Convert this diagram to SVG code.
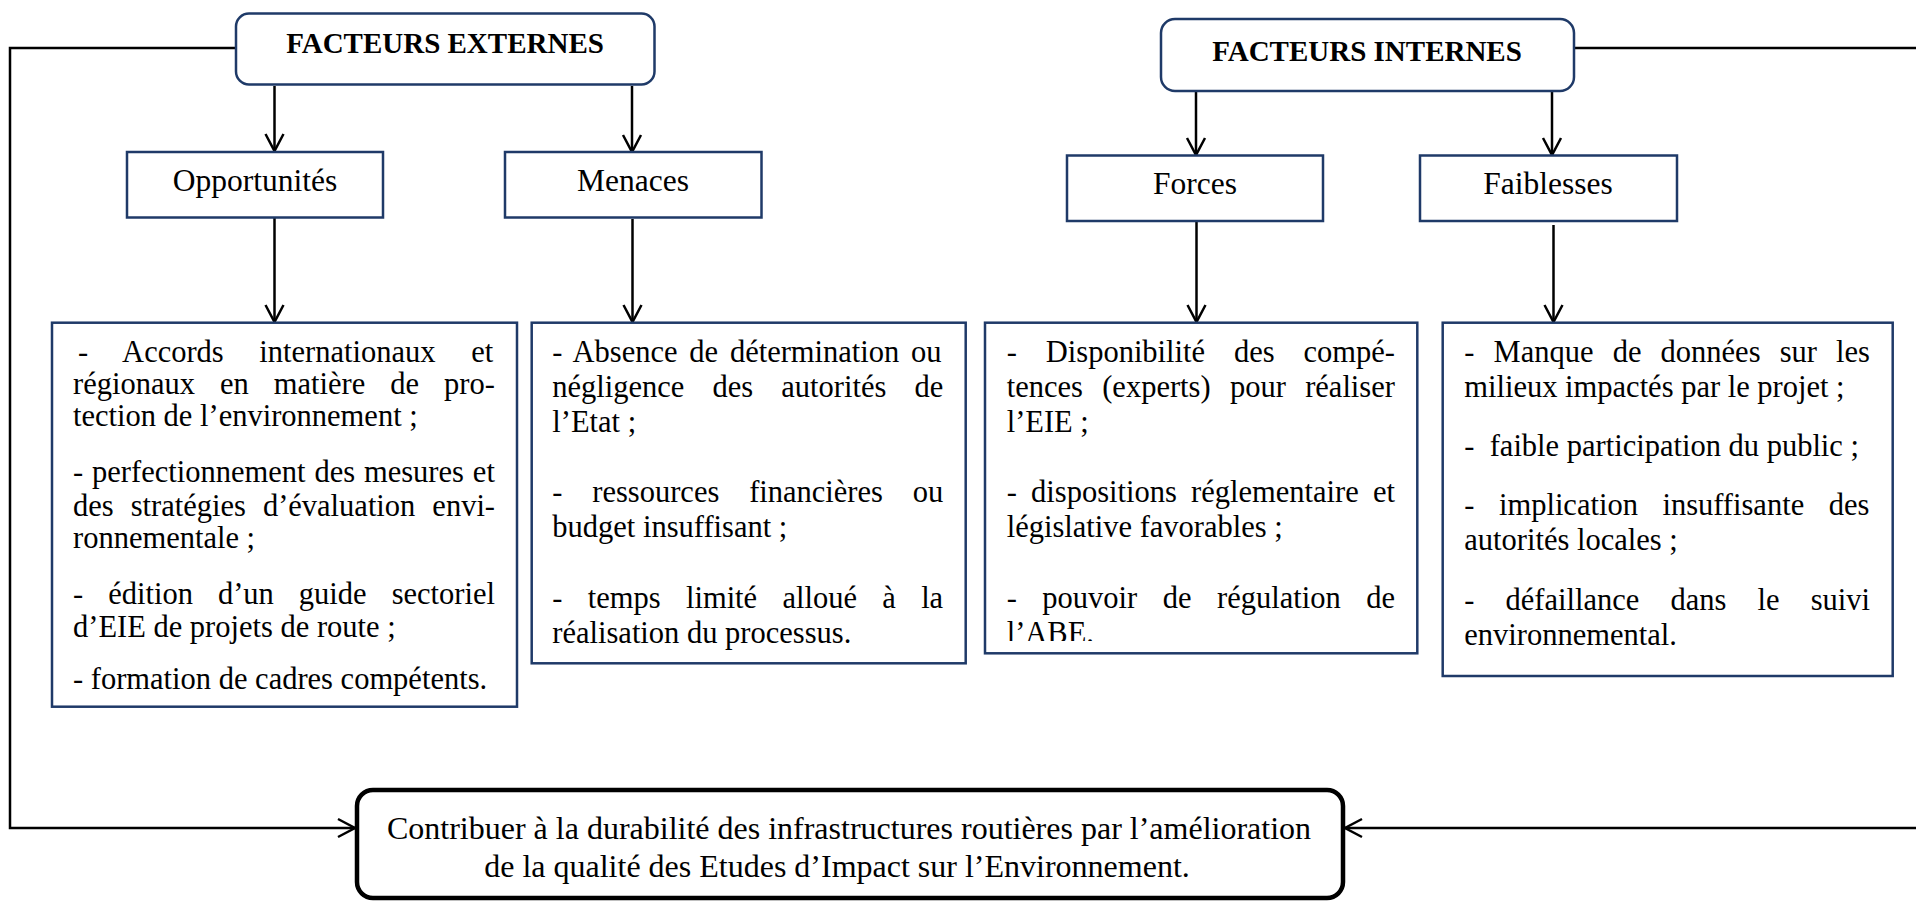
<svg xmlns="http://www.w3.org/2000/svg" width="1916" height="901" viewBox="0 0 1916 901">
<style>
  .box{fill:#fff;stroke:#1f3a68;stroke-width:2.5}
  .goal{fill:#fff;stroke:#000;stroke-width:4.5}
  .hd{font-family:"Liberation Serif","Times New Roman",serif;font-weight:bold;font-size:29px;fill:#000;text-anchor:middle}
  .lb{font-family:"Liberation Serif","Times New Roman",serif;font-size:31.5px;fill:#000;text-anchor:middle}
  .tx{font-family:"Liberation Serif","Times New Roman",serif;font-size:30.5px;fill:#000}
  .gt{font-family:"Liberation Serif","Times New Roman",serif;font-size:32px;fill:#000;text-anchor:middle}
  .cn{fill:none;stroke:#000;stroke-width:2.5}
</style>
<defs>
  <marker id="arr" markerUnits="userSpaceOnUse" markerWidth="24" markerHeight="24" viewBox="-20 -12 24 24" refX="0" refY="0" orient="auto">
    <path d="M-17,-9 L0,0 L-17,9" fill="none" stroke="#000" stroke-width="2.5"/>
  </marker>
  <clipPath id="clipForces"><rect x="985" y="322" width="433" height="319"/></clipPath>
</defs>
<rect width="1916" height="901" fill="#fff"/>

<g id="connectors">
  <path class="cn" d="M236,48 H10 V828 H355" marker-end="url(#arr)"/>
  <path class="cn" d="M1574,48 H1922 V828 H1345" marker-end="url(#arr)"/>
  <path class="cn" d="M274.5,86 V151" marker-end="url(#arr)"/>
  <path class="cn" d="M632,86 V152" marker-end="url(#arr)"/>
  <path class="cn" d="M1196,92 V155" marker-end="url(#arr)"/>
  <path class="cn" d="M1552,92 V155" marker-end="url(#arr)"/>
  <path class="cn" d="M274.5,218 V322" marker-end="url(#arr)"/>
  <path class="cn" d="M632.5,219 V322" marker-end="url(#arr)"/>
  <path class="cn" d="M1196.5,222 V322" marker-end="url(#arr)"/>
  <path class="cn" d="M1553.5,225 V322" marker-end="url(#arr)"/>
</g>

<g id="facteurs-externes">
  <rect class="box" x="236" y="13.5" width="418.5" height="71" rx="13"/>
  <text class="hd" x="445" y="53">FACTEURS EXTERNES</text>
</g>
<g id="facteurs-internes">
  <rect class="box" x="1161" y="19" width="413" height="72" rx="14"/>
  <text class="hd" x="1367" y="61">FACTEURS INTERNES</text>
</g>

<g id="opportunites">
  <rect class="box" x="127" y="152" width="256" height="65.5"/>
  <text class="lb" x="255" y="191">Opportunités</text>
</g>
<g id="menaces">
  <rect class="box" x="505" y="152" width="256.5" height="65.5"/>
  <text class="lb" x="633" y="191">Menaces</text>
</g>
<g id="forces">
  <rect class="box" x="1067" y="155.5" width="256" height="65.5"/>
  <text class="lb" x="1195" y="194">Forces</text>
</g>
<g id="faiblesses">
  <rect class="box" x="1420" y="155.5" width="257" height="65.5"/>
  <text class="lb" x="1548" y="194">Faiblesses</text>
</g>

<g id="opportunites-details">
  <rect class="box" x="52" y="322.7" width="465" height="384"/>
  <text class="tx" x="78" y="362" word-spacing="28">- Accords internationaux et</text>
  <text class="tx" x="73" y="394" word-spacing="17.4">régionaux en matière de pro-</text>
  <text class="tx" x="73" y="425.5">tection de l’environnement ;</text>
  <text class="tx" x="73" y="482" word-spacing="1.3">- perfectionnement des mesures et</text>
  <text class="tx" x="73" y="516" word-spacing="9.4">des stratégies d’évaluation envi-</text>
  <text class="tx" x="73" y="548">ronnementale ;</text>
  <text class="tx" x="73" y="603.5" word-spacing="17.4">- édition d’un guide sectoriel</text>
  <text class="tx" x="73" y="636.5">d’EIE de projets de route ;</text>
  <text class="tx" x="73" y="688.5">- formation de cadres compétents.</text>
</g>

<g id="menaces-details">
  <rect class="box" x="531.7" y="322.7" width="434" height="340.6"/>
  <text class="tx" x="552.3" y="361.7" word-spacing="4.15">- Absence de détermination ou</text>
  <text class="tx" x="552.3" y="396.7" word-spacing="20.5">négligence des autorités de</text>
  <text class="tx" x="552.3" y="431.7">l’Etat ;</text>
  <text class="tx" x="552.3" y="501.7" word-spacing="22.2">- ressources financières ou</text>
  <text class="tx" x="552.3" y="537.3">budget insuffisant ;</text>
  <text class="tx" x="552.3" y="608.3" word-spacing="17.7">- temps limité alloué à la</text>
  <text class="tx" x="552.3" y="643.3">réalisation du processus.</text>
</g>

<g id="forces-details">
  <rect class="box" x="985" y="322.7" width="432.3" height="330.6"/>
  <g clip-path="url(#clipForces)">
    <text class="tx" x="1006.7" y="361.7" word-spacing="21.3">- Disponibilité des compé-</text>
    <text class="tx" x="1006.7" y="397.3" word-spacing="11.7">tences (experts) pour réaliser</text>
    <text class="tx" x="1006.7" y="431.7">l’EIE ;</text>
    <text class="tx" x="1006.7" y="501.7" word-spacing="6.6">- dispositions réglementaire et</text>
    <text class="tx" x="1006.7" y="537.3">législative favorables ;</text>
    <text class="tx" x="1006.7" y="608.3" word-spacing="17.9">- pouvoir de régulation de</text>
    <text class="tx" x="1006.7" y="643.3">l’ABE.</text>
  </g>
</g>

<g id="faiblesses-details">
  <rect class="box" x="1442.7" y="322.7" width="450" height="353.3"/>
  <text class="tx" x="1464.3" y="361.7" word-spacing="11.5">- Manque de données sur les</text>
  <text class="tx" x="1464.3" y="396.7">milieux impactés par le projet ;</text>
  <text class="tx" x="1464.3" y="456" xml:space="preserve">-  faible participation du public ;</text>
  <text class="tx" x="1464.3" y="515" word-spacing="16.9">- implication insuffisante des</text>
  <text class="tx" x="1464.3" y="550">autorités locales ;</text>
  <text class="tx" x="1464.3" y="610" word-spacing="23.5">- défaillance dans le suivi</text>
  <text class="tx" x="1464.3" y="645">environnemental.</text>
</g>

<g id="objectif">
  <rect class="goal" x="357" y="790" width="986" height="108" rx="16"/>
  <text class="gt" x="849" y="839">Contribuer à la durabilité des infrastructures routières par l’amélioration</text>
  <text class="gt" x="837" y="877">de la qualité des Etudes d’Impact sur l’Environnement.</text>
</g>
</svg>
